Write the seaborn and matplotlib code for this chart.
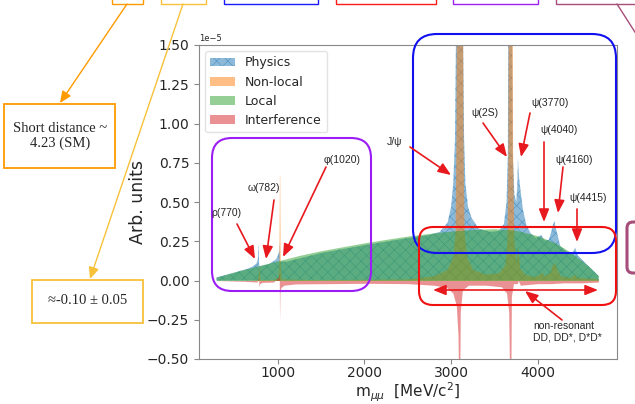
import matplotlib
matplotlib.use("Agg")
import matplotlib.pyplot as plt
import seaborn as sns
import numpy as np
from matplotlib.patches import FancyBboxPatch, Rectangle

# ---------------- data (arbitrary units, x 1e-5) ----------------
mass_local = [290, 500, 750, 1000, 1250, 1500, 1750, 2000, 2250, 2500, 2750, 3000,
              3250, 3500, 3750, 4000, 4200, 4350, 4500, 4600, 4700]
local = [0.02, 0.055, 0.09, 0.125, 0.16, 0.19, 0.215, 0.24, 0.262, 0.283, 0.30, 0.315,
         0.325, 0.33, 0.32, 0.285, 0.24, 0.19, 0.13, 0.085, 0.03]

mass_phys = [290, 500, 650, 720, 755, 770, 778, 784, 800, 900,
             980, 1005, 1015, 1019, 1024, 1100, 1500, 2000, 2500, 2750,
             2870, 2960, 3000, 3025, 3045, 3057, 3137, 3150, 3165, 3195,
             3235, 3320, 3450, 3550, 3610, 3640, 3655, 3660, 3705, 3712,
             3730, 3752, 3764, 3772, 3780, 3800, 3830, 3870, 3920, 3980,
             4040, 4080, 4130, 4165, 4190, 4215, 4260, 4330, 4400, 4432,
             4460, 4550, 4700]
physics = [0.02, 0.05, 0.075, 0.092, 0.11, 0.14, 0.24, 0.095, 0.092, 0.105,
           0.135, 0.165, 0.19, 0.25, 0.12, 0.12, 0.175, 0.225, 0.27, 0.29,
           0.31, 0.37, 0.47, 0.62, 0.9, 1.6, 1.6, 0.9, 0.62, 0.47,
           0.4, 0.33, 0.31, 0.315, 0.36, 0.5, 0.8, 1.6, 1.6, 0.8,
           0.55, 0.5, 0.6, 0.78, 0.68, 0.58, 0.45, 0.35, 0.3, 0.27,
           0.29, 0.255, 0.26, 0.33, 0.38, 0.32, 0.22, 0.185, 0.17, 0.21,
           0.16, 0.11, 0.03]

mass_nonlocal = [290, 700, 770, 782, 795, 950, 1005, 1012, 1018, 1022, 1028,
                 1040, 1500, 2500, 2800, 2950, 3020, 3045, 3056, 3060, 3133,
                 3137, 3150, 3180, 3250, 3400, 3550, 3620, 3645, 3655, 3659,
                 3706, 3710, 3725, 3750, 3766, 3774, 3790, 3850, 3950, 4020,
                 4045, 4075, 4140, 4170, 4190, 4215, 4260, 4380, 4420, 4455,
                 4700]
nonlocal_ = [0.0, 0.0, 0.005, 0.1, 0.005, 0.005, 0.02, 0.08, 0.67, 0.67, 0.08,
             0.01, 0.005, 0.01, 0.03, 0.07, 0.15, 0.3, 0.9, 1.6, 1.6,
             0.9, 0.3, 0.15, 0.07, 0.04, 0.05, 0.1, 0.25, 0.8, 1.6,
             1.6, 0.8, 0.25, 0.12, 0.2, 0.2, 0.08, 0.04, 0.025, 0.04,
             0.055, 0.03, 0.05, 0.1, 0.115, 0.08, 0.03, 0.02, 0.04, 0.02,
             0.01]

mass_interf = [290, 600, 760, 776, 783, 790, 820, 950, 1008, 1016,
               1020, 1024, 1035, 1070, 1200, 1600, 2000, 2500, 2800, 2950,
               3020, 3060, 3080, 3090, 3098, 3106, 3130, 3200, 3400, 3580,
               3640, 3665, 3680, 3688, 3696, 3720, 3765, 3775, 3800, 3900,
               4000, 4150, 4300, 4500, 4700]
interference = [0.0, -0.005, -0.01, 0.02, -0.04, -0.02, -0.012, -0.01, 0.02, 0.05,
                -0.26, -0.08, -0.045, -0.03, -0.022, -0.02, -0.018, -0.02, -0.03, -0.045,
                -0.08, -0.16, -0.35, -0.8, -0.8, -0.2, -0.06, -0.03, -0.03, -0.04,
                -0.08, -0.2, -0.8, -0.8, -0.1, -0.02, -0.02, 0.0, -0.03, -0.025,
                -0.02, -0.02, -0.015, -0.015, -0.01]

series_labels = ["Physics", "Non-local", "Local", "Interference"]
x_ticks = [1000, 2000, 3000, 4000]
y_ticks = [-0.5, -0.25, 0.0, 0.25, 0.5, 0.75, 1.0, 1.25, 1.5]

resonance_labels = ["ρ(770)", "ω(782)", "φ(1020)", "J/ψ", "ψ(2S)", "ψ(3770)",
                    "ψ(4040)", "ψ(4160)", "ψ(4415)"]

# ---------------- style ----------------
sns.set_style("ticks")
plt.rcParams["font.family"] = ["DejaVu Sans"]
plt.rcParams["hatch.linewidth"] = 0.5
pal = sns.color_palette("tab10")
SCALE = 1e-5

fig = plt.figure(figsize=(6.35, 4.04), dpi=100)
W, H = 635.0, 404.0
ax = fig.add_axes([199 / W, 1 - 359 / H, (617 - 199) / W, (359 - 45) / H])

ax.fill_between(mass_phys, np.array(physics) * SCALE, color=pal[0], alpha=0.5,
                hatch="xxx", lw=0, label=series_labels[0])
ax.fill_between(mass_nonlocal, np.array(nonlocal_) * SCALE, color=pal[1], alpha=0.5,
                lw=0, label=series_labels[1])
ax.fill_between(mass_local, np.array(local) * SCALE, color=pal[2], alpha=0.5,
                lw=0, label=series_labels[2])
ax.fill_between(mass_interf, np.array(interference) * SCALE, color=pal[3], alpha=0.5,
                lw=0, label=series_labels[3])

ax.set_xlim(90, 4915)
ax.set_ylim(-0.5 * SCALE, 1.5 * SCALE)
ax.set_xticks(x_ticks)
ax.set_yticks([v * SCALE for v in y_ticks])
ax.tick_params(labelsize=10, color="#888888", length=3.5, width=0.8)
ax.tick_params(axis="x", pad=1.5)
ax.yaxis.get_offset_text().set_fontsize(6)
for s in ax.spines.values():
    s.set_color("#888888")
    s.set_linewidth(0.8)
ax.set_xlabel(r"m$_{\mu\mu}$  [MeV/c$^2$]", fontsize=11, va="bottom")
ax.xaxis.set_label_coords(0.5, -(403.5 - 359) / 314)
ax.set_ylabel("Arb. units", fontsize=12.5, labelpad=0)
leg = ax.legend(loc="upper left", fontsize=9, framealpha=0.8, edgecolor="#dddddd",
                fancybox=True)

# ---------------- overlay annotations (pixel coords) ----------------
ov = fig.add_axes([0, 0, 1, 1], zorder=5)
ov.set_xlim(0, W)
ov.set_ylim(H, 0)
ov.axis("off")
ov.patch.set_alpha(0)

RED = "#e8191e"


def rbox(x0, y0, x1, y1, r, color, lw):
    ov.add_patch(FancyBboxPatch((x0, y0), x1 - x0, y1 - y0,
                                boxstyle=f"round,pad=0,rounding_size={r}",
                                fill=False, ec=color, lw=lw, clip_on=False))


def rect(x0, y0, x1, y1, color, lw):
    ov.add_patch(Rectangle((x0, y0), x1 - x0, y1 - y0, fill=False, ec=color,
                           lw=lw, clip_on=False))


def arrow(x0, y0, x1, y1, color=RED, style="-|>", lw=1.2, hl=0.55, hw=0.22):
    ov.annotate("", xy=(x1, y1), xytext=(x0, y0),
                arrowprops=dict(arrowstyle=f"{style},head_length={hl},head_width={hw}",
                                color=color, lw=lw, shrinkA=0, shrinkB=0,
                                mutation_scale=14),
                annotation_clip=False)


# rounded highlight boxes
rbox(212, 138, 371, 291, 20, "#9b1cf5", 1.5)
rbox(413, 34, 616, 253, 24, "#1010f0", 1.5)
rbox(419, 227, 616, 305, 14, "#f01010", 1.5)
rbox(627, 222, 660, 273, 6, "#a64d79", 2.2)

# top row boxes (cut at image top)
rect(112, -6, 143, 4, "#ff9a00", 1.0)
rect(161, -6, 206, 4, "#f7c23a", 1.0)
rect(224, -6, 318, 4, "#1a1aff", 1.0)
rect(336, -6, 436, 4, "#ff1a1a", 1.0)
rect(453, -6, 538, 4, "#a020f0", 1.0)
rect(556, -6, 660, 4, "#a64d79", 1.0)
ov.plot([617, 640], [4, 40], color="#a64d79", lw=1.0, clip_on=False)

# side boxes with serif text
rect(4, 104, 115, 168, "#ff9a00", 1.3)
ov.text(60, 136, "Short distance ~\n4.23 (SM)", ha="center", va="center",
        fontsize=10.5, family="Liberation Serif", linespacing=1.15)
arrow(127, 4, 60, 103, color="#ff9a00", lw=1.0, hl=0.5, hw=0.22)

rect(32, 280, 143, 323, "#f7c23a", 1.3)
ov.text(88, 301, "≈-0.10 ± 0.05", ha="center", va="center",
        fontsize=10.5, family="Liberation Serif")
arrow(183, 4, 90, 279, color="#f7c23a", lw=1.0, hl=0.5, hw=0.22)

# resonance labels and arrows
label_pos = [(226, 213), (264, 188), (342, 160), (395, 142), (485, 113),
             (550, 103), (559, 130), (574, 160), (588, 198)]
arrow_seg = [((237, 224), (255, 259)), ((274, 200), (266, 259)),
             ((326, 167), (283, 257)), ((410, 147), (451, 175)),
             ((483, 123), (507, 157)), ((530, 113), (521, 157)),
             ((544, 142), (544, 222)), ((563, 167), (558, 213)),
             ((577, 209), (577, 242))]
for lab, (px, py), (a, b) in zip(resonance_labels, label_pos, arrow_seg):
    ov.text(px, py, lab, ha="center", va="center", fontsize=7.5,
            family=["Liberation Sans", "DejaVu Sans"])
    arrow(a[0], a[1], b[0], b[1])

arrow(433, 290, 598, 290, style="<|-|>")
arrow(562, 320, 525, 291)
ov.text(533, 332, "non-resonant\nDD, DD*, D*D*", ha="left", va="center",
        fontsize=7.5, family=["Liberation Sans", "DejaVu Sans"], linespacing=1.2)

fig.savefig("out.png", dpi=100)
